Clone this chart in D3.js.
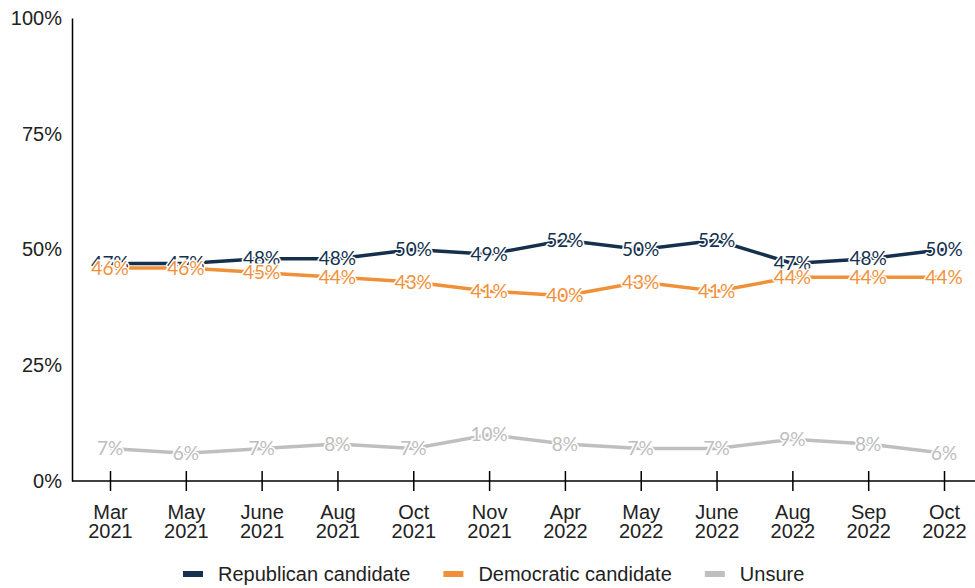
<!DOCTYPE html>
<html>
<head>
<meta charset="utf-8">
<script src="https://cdn.jsdelivr.net/npm/d3@7"></script>
<style>
body { margin: 0; background: #fff; }
</style>
</head>
<body>
<div id="chart"></div>
<script>
const months = ['Mar', 'May', 'June', 'Aug', 'Oct', 'Nov', 'Apr', 'May', 'June', 'Aug', 'Sep', 'Oct'];
const years = ['2021', '2021', '2021', '2021', '2021', '2021', '2022', '2022', '2022', '2022', '2022', '2022'];
const republican = [47, 47, 48, 48, 50, 49, 52, 50, 52, 47, 48, 50];
const democratic = [46, 46, 45, 44, 43, 41, 40, 43, 41, 44, 44, 44];
const unsure = [7, 6, 7, 8, 7, 10, 8, 7, 7, 9, 8, 6];
const yTicks = [0, 25, 50, 75, 100];

const width = 975, height = 588;
const plotLeft = 72, plotTop = 18, plotBottom = 481;

const series = [
    { name: 'Republican candidate', values: republican, color: '#14304d', labelColor: '#14304d' },
    { name: 'Democratic candidate', values: democratic, color: '#f0913a', labelColor: '#f0913a' },
    { name: 'Unsure', values: unsure, color: '#bfbfbf', labelColor: '#bdbdbd' }
];

const axisFont = '"Liberation Sans", Arial, sans-serif';

const svg = d3.select('#chart').append('svg')
    .attr('width', width)
    .attr('height', height);

const keys = months.map((m, i) => i);
const x = d3.scalePoint()
    .domain(keys)
    .range([110, 944]);
const y = d3.scaleLinear()
    .domain([0, 100])
    .range([plotBottom, plotTop]);

// y axis
const yAxis = svg.append('g')
    .attr('transform', 'translate(' + plotLeft + ',0)')
    .call(d3.axisLeft(y).tickValues(yTicks).tickSize(0).tickPadding(10).tickFormat(d => d + '%'));
yAxis.select('.domain').attr('stroke', '#000').attr('stroke-width', 1.5);
yAxis.selectAll('text')
    .style('font-family', axisFont)
    .style('font-size', '20px')
    .attr('fill', '#222');

// x axis
const xAxis = svg.append('g')
    .attr('transform', 'translate(0,' + plotBottom + ')')
    .call(d3.axisBottom(x).tickSizeInner(10).tickSizeOuter(0).tickFormat(''));
xAxis.select('.domain').attr('d', 'M' + plotLeft + ',0H' + width).attr('stroke', '#000').attr('stroke-width', 1.5);
xAxis.selectAll('.tick line').attr('y1', -10).attr('y2', 10).attr('stroke', '#000').attr('stroke-width', 1.5);
xAxis.selectAll('.tick').each(function (d) {
    const t = d3.select(this).append('text')
        .attr('text-anchor', 'middle')
        .attr('fill', '#222')
        .style('font-family', axisFont)
        .style('font-size', '20px');
    t.append('tspan').attr('x', 0).attr('y', 38).text(months[d]);
    t.append('tspan').attr('x', 0).attr('y', 57).text(years[d]);
});

// lines
const line = d3.line()
    .x((d, i) => x(i))
    .y(d => y(d));

series.forEach(s => {
    svg.append('path')
        .datum(s.values)
        .attr('fill', 'none')
        .attr('stroke', s.color)
        .attr('stroke-width', 3.5)
        .attr('d', line);
});

// point labels
series.forEach(s => {
    svg.append('g').selectAll('text')
        .data(s.values)
        .join('text')
        .attr('x', (d, i) => x(i))
        .attr('y', d => y(d))
        .attr('dy', '0.35em')
        .attr('text-anchor', 'middle')
        .attr('fill', s.labelColor)
        .attr('stroke', '#fff')
        .attr('stroke-width', 3)
        .attr('paint-order', 'stroke')
        .style('font-family', '"Lato", "Open Sans", sans-serif')
        .style('font-size', '19px')
        .text(d => d + '%');
});

// legend
const legend = svg.append('g').attr('transform', 'translate(0,574)');
let lx = 183;
series.forEach(s => {
    legend.append('rect')
        .attr('x', lx)
        .attr('y', -3)
        .attr('width', 20)
        .attr('height', 6)
        .attr('fill', s.color);
    const t = legend.append('text')
        .attr('x', lx + 35)
        .attr('y', 0)
        .attr('dy', '0.35em')
        .attr('fill', '#222')
        .style('font-family', axisFont)
        .style('font-size', '20px')
        .text(s.name);
    lx += 35 + t.node().getComputedTextLength() + 33;
});
</script>
</body>
</html>
